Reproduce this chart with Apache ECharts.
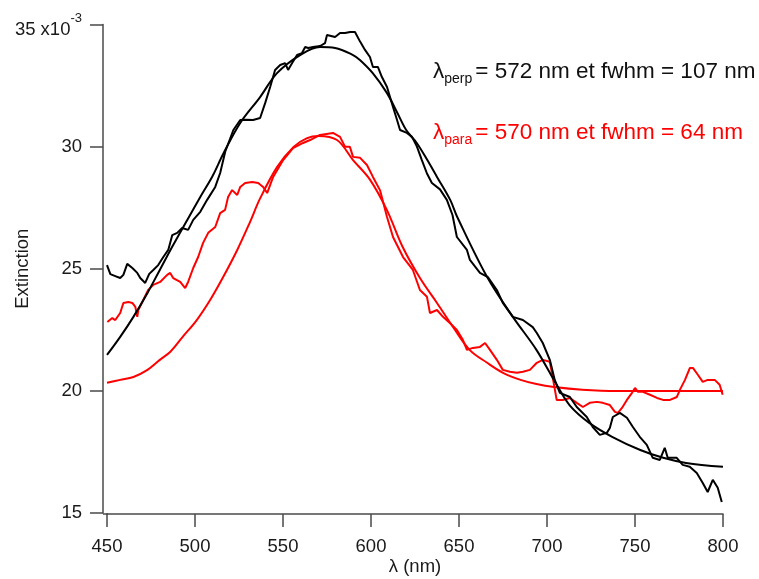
<!DOCTYPE html>
<html><head><meta charset="utf-8">
<script src="https://cdn.jsdelivr.net/npm/echarts@6/dist/echarts.min.js"></script>
<style>html,body{margin:0;padding:0;background:#fff}#c{width:759px;height:579px}</style>
</head><body><div id="c"></div>
<script>
// ---- tick labels ----
const xTicks = [450, 500, 550, 600, 650, 700, 750, 800];
const yTicks = [15, 20, 25, 30, 35];
const yScaleText = ' x10';
const yScaleExp = '-3';
const xName = 'λ (nm)';
const yName = 'Extinction';
const perpNote = ['λ', 'perp', '= 572 nm et fwhm = 107 nm'];
const paraNote = ['λ', 'para', '= 570 nm et fwhm = 64 nm'];

// ---- perpendicular (black) measured ----
const perpX = [450,451.9,454.7,457.5,459.3,461.5,464.4,467.2,468.9,471.7,474,476.3,479.1,482,484.8,487.1,489.9,492.7,496.1,499,503,506.9,511.5,514.3,517.2,521.8,525.7,529,533,537,539.9,542.7,545.5,548.4,551.2,552.9,555.2,558,560.8,562.6,564.3,567.1,571.1,573.9,575,579.6,582.4,585.3,588.1,590.9,593.8,596.6,599.4,601.1,603.9,606.2,609.1,610.8,612.5,614.8,616.5,620.4,623.3,626.1,628.9,631.8,634.6,639.2,643.1,646.3,648.8,654.5,656.2,661.9,666.4,671.5,674.9,680.6,686.3,691.9,694.2,697.6,701.6,704.4,707.3,713,716.9,722.6,726,730,734,735.7,737.4,741.4,745.4,748.8,752.7,756.7,760.1,764.1,766.9,768.6,773.7,777.1,781.1,785.1,788.5,791.3,794.2,797,799.3];
const perpY = [25.15,24.78,24.70,24.62,24.75,25.2,25.03,24.83,24.62,24.42,24.79,24.95,25.15,25.48,25.77,26.38,26.47,26.67,26.59,27.0,27.33,27.82,28.35,28.92,29.8,30.68,31.09,31.1,31.09,31.17,31.79,32.44,33.14,33.34,33.42,33.14,33.42,33.75,33.83,34.08,34.04,34.08,34.12,34.24,34.57,34.49,34.65,34.65,34.69,34.69,34.3,33.96,33.67,33.26,33.26,32.85,32.44,32.03,31.62,31.09,30.68,30.56,30.4,30.0,29.45,28.9,28.51,28.25,27.82,27.2,26.3,25.77,25.36,24.83,24.66,24.13,23.6,23.03,22.9,22.61,22.37,21.96,21.27,20.45,19.92,19.75,19.34,18.93,18.52,18.2,18.28,18.48,18.93,19.1,18.9,18.52,18.12,17.79,17.26,17.17,17.67,17.26,17.26,16.97,16.89,16.64,16.23,15.86,16.36,16.03,15.45];

// ---- perpendicular (black) fit ----
const perpFitX = [450,457.5,465,473,480,487.6,495.6,503,510,516,525.7,537,546.6,559.7,571,579.6,589.8,593.7,601,609,615,620,626,632,637.5,645,649,666,680.6,694,705.5,713,724,737,753,766,779,800];
const perpFitY = [21.47,22.21,23.03,24.01,24.95,25.97,27.0,27.94,28.8,29.7,30.97,32.03,33.01,33.75,34.08,34.04,33.75,33.55,33.01,32.2,31.38,30.68,30.15,29.45,28.76,27.82,27.12,24.66,23.03,21.68,20.25,19.4,18.69,18.12,17.58,17.26,17.05,16.89];

// ---- parallel (red) measured ----
const paraX = [450.2,453,454.7,457.5,459.3,462.1,464.4,466.1,467.2,467.8,470.6,473.4,476.3,480.2,484.2,485.9,487.6,491.6,494.4,496.1,499,501.8,504.6,507.5,511.5,514.3,517.1,518.8,521.1,524,525.7,528.5,532.5,535.9,538.7,541,544.4,550.1,555.7,561.4,565.4,571,578.4,582.4,585.3,588,589.8,593.8,597.7,601.1,605.1,609.1,612.5,618.2,623.8,627.8,631.8,633.5,637.5,640.9,644.8,648.8,652.2,654.5,657.9,661.9,664.8,667.6,671.5,674.9,678.9,682.9,686.3,690.3,694.2,697.6,701.6,703.3,705.5,709,713,716.9,720.4,724.3,728.3,731.7,735.7,738.6,740.3,742.6,745.4,748.3,750,751.7,754.5,758.5,762.5,765.9,769.9,773.8,775.5,778.4,781.2,782.9,785.8,788.5,791.3,795.3,798.1,799.8];
const paraY = [22.82,22.98,22.9,23.19,23.6,23.64,23.6,23.44,23.03,23.31,23.72,24.13,24.34,24.46,24.75,24.83,24.62,24.46,24.21,24.46,25.03,25.48,26.06,26.47,26.71,27.28,27.41,27.94,28.22,28.02,28.35,28.51,28.55,28.51,28.35,28.1,28.76,29.45,29.94,30.15,30.27,30.48,30.56,30.4,29.99,29.99,29.58,29.54,29.25,28.76,28.22,27.12,26.3,25.48,24.95,24.13,23.85,23.19,23.31,23.03,22.78,22.49,22.09,21.68,21.76,21.8,21.96,21.68,21.27,20.86,20.78,20.74,20.78,20.86,21.15,21.27,21.19,20.53,19.63,19.63,19.71,19.51,19.34,19.51,19.55,19.51,19.42,19.14,19.1,19.3,19.63,19.92,20.12,19.96,19.96,19.84,19.71,19.63,19.63,19.75,20.04,20.45,20.94,20.94,20.65,20.37,20.45,20.45,20.25,19.84];

// ---- parallel (red) fit ----
const paraFitX = [450,457.5,465,473,480,486,493,501,508.6,516,524,531,537,546.7,556,563.7,570,580.7,589.8,599.4,609,618,628,637.5,646.6,656,666,675,685,694,704,720,740,800];
const paraFitY = [20.33,20.45,20.57,20.86,21.27,21.6,22.21,22.9,23.72,24.66,25.77,26.87,27.88,29.17,29.99,30.35,30.44,30.27,29.45,28.65,27.41,25.89,24.6,23.6,22.62,21.68,21.15,20.74,20.45,20.28,20.16,20.05,20.0,20.0];

function zip(xs, ys) { return xs.map((x, i) => [x, ys[i]]); }

const FONT = 'Liberation Sans, Arial, sans-serif';
const BLACK = '#000000';
const RED = '#ff0000';
const AXIS = '#4a4a4a';
const TXT = '#1a1a1a';

const chart = echarts.init(document.getElementById('c'), null, {renderer: 'canvas'});

function lineSeries(name, data, color, smooth, z) {
  return {
    name, type: 'line', data, smooth, showSymbol: false, symbol: 'none', z,
    lineStyle: {color, width: 2}, animation: false
  };
}

function noteText(parts) {
  return '{m|' + parts[0] + '}{s|' + parts[1] + '}{r|' + parts[2] + '}';
}
function noteRich(color) {
  return {
    m: {fontSize: 22.5, fontFamily: FONT, fill: color},
    s: {fontSize: 14, fontFamily: FONT, fill: color, padding: [16, 0, 0, 0]},
    r: {fontSize: 22.5, fontFamily: FONT, fill: color, padding: [0, 0, 0, 3]}
  };
}

chart.setOption({
  animation: false,
  backgroundColor: '#ffffff',
  grid: {left: 107, right: 36, top: 24.5, bottom: 66, containLabel: false, outerBoundsMode: 'none'},
  xAxis: {
    type: 'value', min: xTicks[0], max: xTicks[xTicks.length - 1], interval: 50,
    offset: 1,
    name: xName, nameLocation: 'middle', nameGap: 43, nameMoveOverlap: false,
    nameTextStyle: {fontFamily: FONT, fontSize: 18.5, color: TXT},
    axisLine: {show: true, lineStyle: {color: AXIS, width: 1.5}},
    axisTick: {show: true, length: 13, lineStyle: {color: AXIS, width: 1.5}},
    axisLabel: {fontFamily: FONT, fontSize: 18.5, color: TXT, margin: 23},
    splitLine: {show: false}
  },
  yAxis: {
    type: 'value', min: yTicks[0], max: yTicks[yTicks.length - 1], interval: 5,
    offset: 4,
    name: yName, nameLocation: 'middle', nameGap: 71, nameMoveOverlap: false,
    nameTextStyle: {fontFamily: FONT, fontSize: 18.5, color: TXT},
    axisLine: {show: true, lineStyle: {color: AXIS, width: 1.5}},
    axisTick: {show: true, length: 13, lineStyle: {color: AXIS, width: 1.5}},
    axisLabel: {
      fontFamily: FONT, fontSize: 18.5, color: TXT, margin: 21,
      formatter: function (v) {
        if (v === yTicks[yTicks.length - 1]) return '{m|' + v + yScaleText + '}{s|' + yScaleExp + '}';
        return String(v);
      },
      rich: {
        m: {fontFamily: FONT, fontSize: 18.5, color: TXT, padding: [10, 0, 0, 0]},
        s: {fontFamily: FONT, fontSize: 13, color: TXT, padding: [0, 0, 12, 0]}
      }
    },
    splitLine: {show: false}
  },
  graphic: [
    {type: 'line', shape: {x1: 103, y1: 514, x2: 108, y2: 514}, style: {stroke: AXIS, lineWidth: 1.5}, silent: true},
    {type: 'text', x: 433, y: 71.5, silent: true,
      style: {text: noteText(perpNote), rich: noteRich('#111111'), fill: '#111111', align: 'left', verticalAlign: 'middle', font: '22.5px ' + FONT}},
    {type: 'text', x: 433, y: 132.5, silent: true,
      style: {text: noteText(paraNote), rich: noteRich(RED), fill: RED, align: 'left', verticalAlign: 'middle', font: '22.5px ' + FONT}}
  ],
  series: [
    lineSeries('para fit', zip(paraFitX, paraFitY), RED, 0.35, 2),
    lineSeries('para', zip(paraX, paraY), RED, false, 2),
    lineSeries('perp fit', zip(perpFitX, perpFitY), BLACK, 0.35, 3),
    lineSeries('perp', zip(perpX, perpY), BLACK, false, 3)
  ]
});
</script></body></html>
